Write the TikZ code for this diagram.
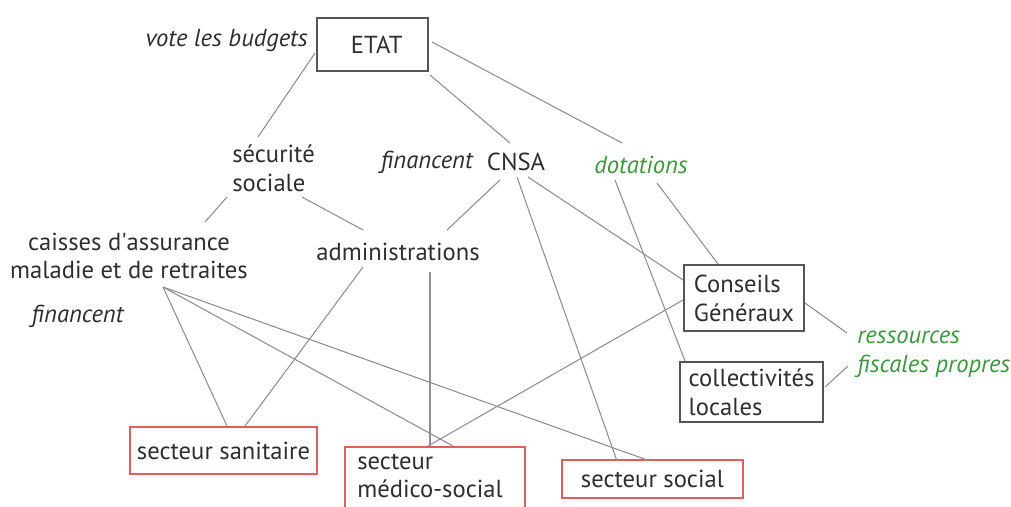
\documentclass[tikz,border=0pt]{standalone}
\usepackage{fontspec}
\setmainfont{PT Sans}
\definecolor{txt}{HTML}{2E2E2E}
\definecolor{edge}{HTML}{8E8E8E}
\definecolor{boxc}{HTML}{555555}
\definecolor{redc}{RGB}{222,96,90}
\definecolor{grn}{RGB}{62,150,62}
\begin{document}
\begin{tikzpicture}[x=0.025cm,y=-0.025cm,
  every node/.style={text=txt,font=\fontsize{17.5}{20.5}\selectfont},
  lbl/.style={inner sep=0pt},
  itl/.style={inner sep=0pt,font=\fontsize{17.5}{20.5}\selectfont\itshape},
  glbl/.style={inner sep=0pt,text=grn,font=\fontsize{17.5}{20.5}\selectfont\itshape},
  graybox/.style={draw=boxc,line width=1.7pt,inner sep=0pt},
  redbox/.style={draw=redc,line width=1.6pt,inner sep=0pt},
  conn/.style={draw=edge,line width=0.75pt}]
\useasboundingbox (0,0) rectangle (1011,506);
\fill[white] (0,0) rectangle (1011,506);

% boxes
\node[graybox,minimum width=2.775cm,minimum height=1.325cm] (etat) at (372.5,44.5) {\hspace*{6pt}ETAT};
\node[graybox,minimum width=3.0cm,minimum height=1.65cm,align=left] (conseils) at (744,298) {Conseils\\Généraux};
\node[graybox,minimum width=3.575cm,minimum height=1.5cm,align=left] (collect) at (751.5,392) {collectivités\\locales};
\node[redbox,minimum width=4.675cm,minimum height=1.175cm] (sanitaire) at (223.5,450.5) {secteur sanitaire};
\node[redbox,minimum width=4.5cm,minimum height=1.7cm] (medicobox) at (435,481) {};
\node[lbl,align=left,anchor=west] (medico) at (357,476) {secteur\\médico-social};
\node[redbox,minimum width=4.525cm,minimum height=0.95cm] (social) at (652.5,479) {secteur social};

% text labels
\node[itl,anchor=east] (vote) at (308,40) {vote les budgets};
\node[lbl,align=left,anchor=west] (secu) at (232,168) {sécurité\\sociale};
\node[itl,anchor=east] (fin1) at (473,162) {financent};
\node[lbl] (cnsa) at (516,162) {CNSA};
\node[glbl] (dot) at (641,165) {dotations};
\node[lbl,align=center] (caisses) at (129,256) {caisses d\textquotesingle assurance\\maladie et de retraites};
\node[lbl] (admin) at (398,252) {administrations};
\node[itl] (fin2) at (77.5,316) {financent};
\node[glbl,align=left,anchor=west] (ress) at (857,354) {ressources\\fiscales propres};

% connector end points
\coordinate (etat-sw) at (315,53);
\coordinate (etat-se) at (430,75);
\coordinate (etat-e) at (432,42);
\coordinate (secu-n) at (258,137);
\coordinate (secu-sw) at (227,197);
\coordinate (secu-se) at (302,197);
\coordinate (cnsa-n) at (510,143);
\coordinate (cnsa-sw) at (500,180);
\coordinate (cnsa-s) at (517,177);
\coordinate (cnsa-se) at (528,177);
\coordinate (dot-n) at (622,143);
\coordinate (dot-sw) at (615,180);
\coordinate (dot-se) at (657,183);
\coordinate (caisses-n) at (205,222);
\coordinate (caisses-s) at (163,287);
\coordinate (admin-nw) at (363,230);
\coordinate (admin-ne) at (447,230);
\coordinate (admin-sw) at (363,267);
\coordinate (admin-s) at (430,272);
\coordinate (cons-w1) at (683,280);
\coordinate (cons-w2) at (683,300);
\coordinate (cons-n) at (718,264);
\coordinate (cons-e) at (805,303);
\coordinate (coll-nw) at (685,361);
\coordinate (coll-e) at (825,387);
\coordinate (ress-w1) at (847,333);
\coordinate (ress-w2) at (848,366);
\coordinate (san-n1) at (227,426);
\coordinate (san-n2) at (245,426);
\coordinate (med-n1) at (453,446);
\coordinate (med-n2) at (430,446);
\coordinate (med-n3) at (428,446);
\coordinate (soc-n1) at (617,461);
\coordinate (soc-n2) at (650,461);

% connectors
\draw[conn] (etat-sw) -- (secu-n);
\draw[conn] (etat-se) -- (cnsa-n);
\draw[conn] (etat-e) -- (dot-n);
\draw[conn] (secu-sw) -- (caisses-n);
\draw[conn] (secu-se) -- (admin-nw);
\draw[conn] (cnsa-sw) -- (admin-ne);
\draw[conn] (cnsa-se) -- (cons-w1);
\draw[conn] (cnsa-s) -- (soc-n1);
\draw[conn] (dot-sw) -- (coll-nw);
\draw[conn] (dot-se) -- (cons-n);
\draw[conn] (cons-e) -- (ress-w1);
\draw[conn] (coll-e) -- (ress-w2);
\draw[conn] (caisses-s) -- (san-n1);
\draw[conn] (caisses-s) -- (med-n1);
\draw[conn] (caisses-s) -- (soc-n2);
\draw[conn] (admin-sw) -- (san-n2);
\draw[conn] (admin-s) -- (med-n2);
\draw[conn] (cons-w2) -- (med-n3);
\end{tikzpicture}
\end{document}
